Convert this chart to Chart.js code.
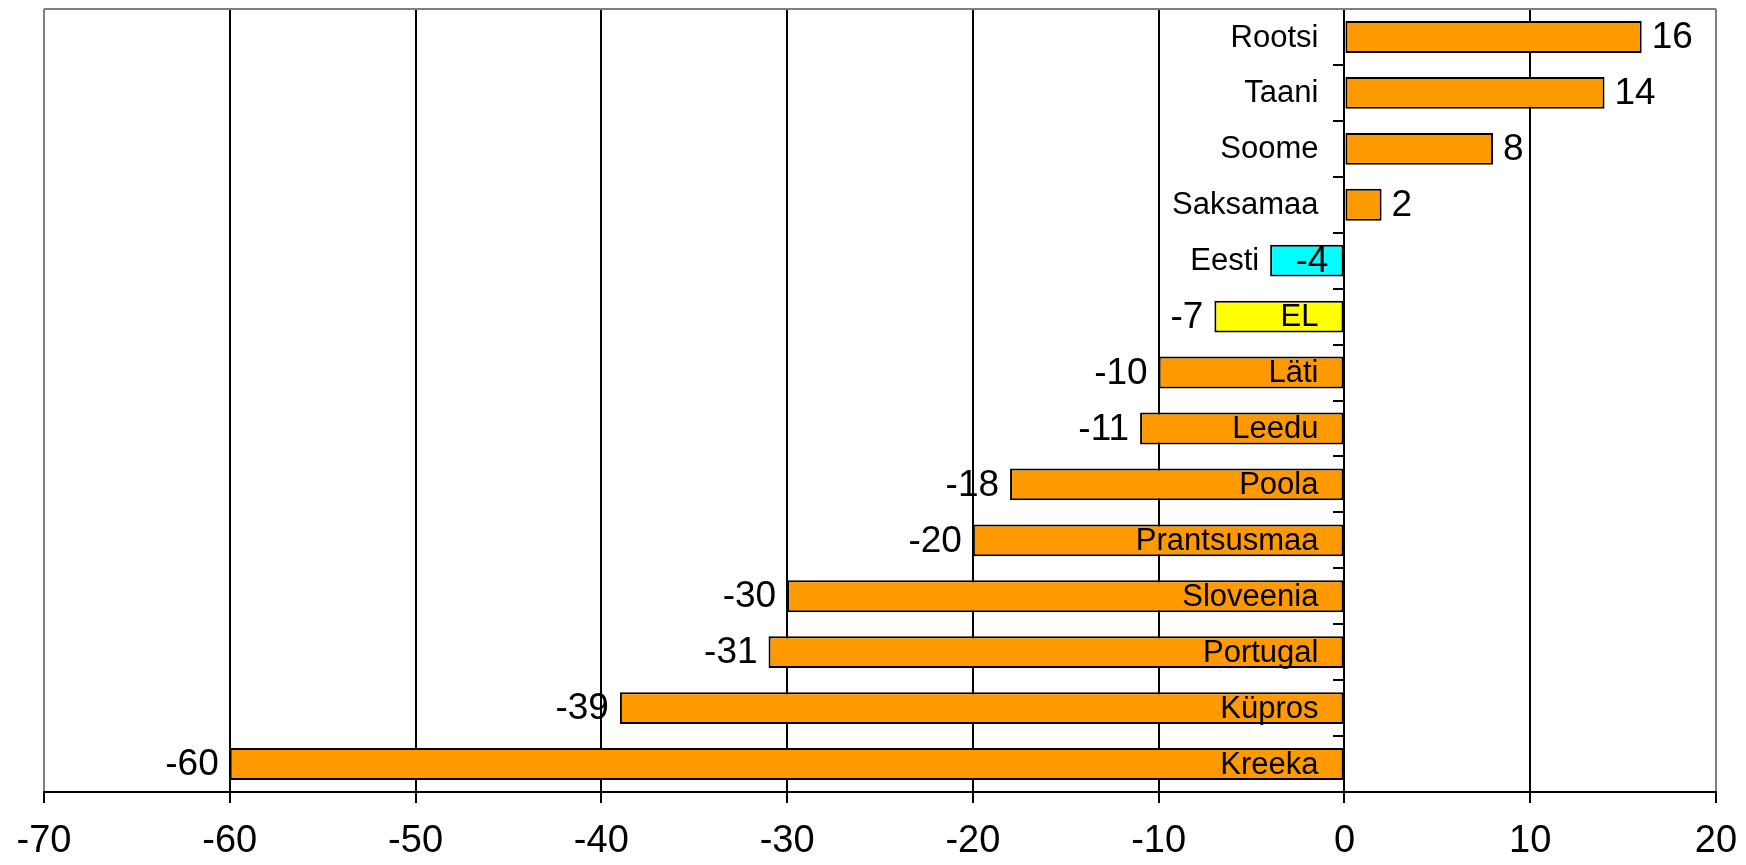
<!DOCTYPE html>
<html>
<head>
<meta charset="utf-8">
<script src="https://cdn.jsdelivr.net/npm/chart.js@4/dist/chart.umd.min.js"></script>
<style>
  html, body { margin: 0; padding: 0; background: #fff; }
  #wrap { width: 1746px; height: 865px; }
</style>
</head>
<body>
<div id="wrap"><canvas id="chart"></canvas></div>
<script>
const countries = ["Rootsi", "Taani", "Soome", "Saksamaa", "Eesti", "EL", "Läti", "Leedu",
  "Poola", "Prantsusmaa", "Sloveenia", "Portugal", "Küpros", "Kreeka"];
const values = [16, 14, 8, 2, -4, -7, -10, -11, -18, -20, -30, -31, -39, -60];
const barColors = ["#ff9900", "#ff9900", "#ff9900", "#ff9900", "#00ffff", "#ffff00", "#ff9900",
  "#ff9900", "#ff9900", "#ff9900", "#ff9900", "#ff9900", "#ff9900", "#ff9900"];
const xTicks = [-70, -60, -50, -40, -30, -20, -10, 0, 10, 20];
// Eesti has its name outside the bar and its value at the axis
const nameOutside = ["Eesti"];

const FONT = "'Liberation Sans', Arial, sans-serif";

const labelPlugin = {
  id: "barLabels",
  beforeDatasetsDraw(chart) {
    const { ctx, chartArea } = chart;
    ctx.save();
    ctx.strokeStyle = "#808080";
    ctx.lineWidth = 2;
    ctx.beginPath();
    ctx.moveTo(chartArea.left, chartArea.top);
    ctx.lineTo(chartArea.right, chartArea.top);
    ctx.stroke();
    ctx.restore();
  },
  afterDatasetsDraw(chart) {
    const { ctx } = chart;
    const x = chart.scales.x;
    const zero = x.getPixelForValue(0);
    const meta = chart.getDatasetMeta(0);
    ctx.save();
    ctx.fillStyle = "#000";
    ctx.textBaseline = "middle";
    meta.data.forEach((bar, i) => {
      const v = values[i];
      const end = x.getPixelForValue(v);
      const y = bar.y + 1;
      const outside = nameOutside.includes(countries[i]);
      const outerText = outside ? countries[i] : String(v);
      const innerText = outside ? String(v) : countries[i];
      // label at the bar end
      ctx.font = (outside ? "31px " : "37px ") + FONT;
      if (v >= 0) {
        ctx.textAlign = "left";
        ctx.fillText(outerText, end + 10, y);
      } else {
        ctx.textAlign = "right";
        ctx.fillText(outerText, end - 11, y);
      }
      // label next to the zero axis
      ctx.textAlign = "right";
      if (outside) {
        ctx.font = "37px " + FONT;
        ctx.fillText(innerText, zero - 16, y);
      } else {
        ctx.font = "31px " + FONT;
        ctx.fillText(innerText, zero - 26, y);
      }
    });
    ctx.restore();
  },
};

new Chart(document.getElementById("chart"), {
  type: "bar",
  data: {
    labels: countries,
    datasets: [
      {
        data: values,
        backgroundColor: barColors,
        borderColor: "#000",
        borderWidth: 2,
        borderSkipped: false,
        barPercentage: 0.57,
        categoryPercentage: 1,
      },
    ],
  },
  options: {
    indexAxis: "y",
    responsive: true,
    maintainAspectRatio: false,
    devicePixelRatio: 1,
    animation: false,
    layout: { padding: { left: 44, right: 30, top: 9, bottom: 0 } },
    plugins: { legend: { display: false }, tooltip: { enabled: false } },
    scales: {
      x: {
        min: -70,
        max: 20,
        afterBuildTicks(scale) {
          scale.ticks = xTicks.map((value) => ({ value }));
        },
        afterFit(scale) {
          scale.height = 73;
          scale.paddingLeft = 0;
          scale.paddingRight = 0;
        },
        grid: {
          color: (c) => (c.tick && (c.tick.value === -70 || c.tick.value === 20) ? "#808080" : "#000"),
          tickColor: "#000",
          lineWidth: 2,
          tickLength: 11,
        },
        border: { color: "#000", width: 2 },
        ticks: {
          color: "#000",
          font: { family: FONT, size: 38 },
          padding: 16,
          maxRotation: 0,
          autoSkip: false,
        },
      },
      y: {
        type: "category",
        position: { x: 0 },
        offset: true,
        grid: {
          offset: true,
          drawOnChartArea: false,
          tickLength: 10,
          color: "#000",
          lineWidth: 2,
        },
        border: { color: "#000", width: 2 },
        ticks: { display: false },
      },
    },
  },
  plugins: [labelPlugin],
});
</script>
</body>
</html>
